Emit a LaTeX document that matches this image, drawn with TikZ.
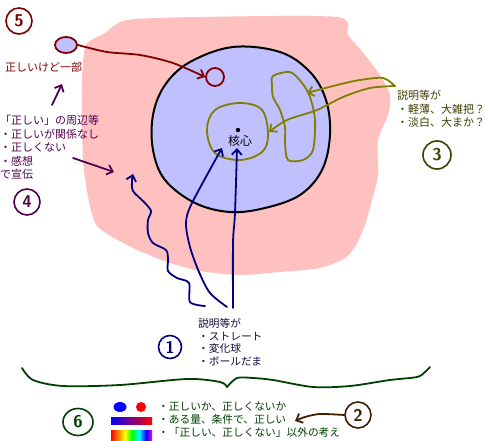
\documentclass[tikz,border=0pt]{standalone}
\usepackage{fontspec}
\newfontfamily\jp{Noto Sans CJK JP}
\usetikzlibrary{arrows.meta,shapes.geometric}
\definecolor{pinkbg}{HTML}{FFC0C0}
\definecolor{lav}{HTML}{C0C0FF}
\definecolor{dred}{HTML}{800000}
\definecolor{dpur}{HTML}{500050}
\definecolor{olv}{HTML}{808000}
\definecolor{dolv}{HTML}{404000}
\definecolor{nav}{HTML}{000080}
\definecolor{dnav}{HTML}{101040}
\definecolor{dgrn}{HTML}{004000}
\definecolor{brn}{HTML}{402000}
\begin{document}
\begin{tikzpicture}[x=1pt,y=-1pt,
  pen/.style={line width=1.8pt, line cap=round, line join=round},
  arr/.style={pen, -{Straight Barb[length=5.5pt,width=10pt,line width=1.8pt]}},
  num/.style={circle, draw, line width=1.6pt, minimum size=26pt, inner sep=0pt, font=\sffamily\bfseries\fontsize{17}{17}\selectfont},
  txt/.style={anchor=north west, inner sep=0pt, align=left, font=\jp\fontsize{11}{13.5}\selectfont},
  btxt/.style={anchor=north west, inner sep=0pt, align=left, font=\jp\fontsize{10.7}{12.8}\selectfont}]
\useasboundingbox (0,0) rectangle (485,441);
\fill[white] (0,0) rectangle (485,441);

% pink blob
\fill[pinkbg] plot[smooth cycle, tension=0.45] coordinates {
 (127,20) (200,17) (337,17) (348,35) (365,55) (380,75) (390,95) (388,115)
 (378,140) (378,175) (372,200) (365,225) (356,245) (345,258) (320,268)
 (280,272) (240,275) (200,271) (167,262) (133,248) (100,229) (92,214)
 (86,185) (83,160) (82,120) (82,80) (86,45) (105,33)};

% lavender circle
\filldraw[fill=lav, draw=black, line width=2pt] plot[smooth cycle, tension=0.6] coordinates {
 (233,47) (280,52) (310,72) (326,100) (330,135) (322,170) (300,195) (265,208)
 (230,212) (195,203) (165,180) (153,150) (153,115) (165,85) (190,62)};

% core
\fill[black] (238,130) circle (2.2pt);
\coordinate (core) at (238,130);
\node[font=\jp\fontsize{12}{12}\selectfont, inner sep=0pt] (kaku) at (240,141) {核心};

% olive loops
\draw[olv, pen] plot[smooth cycle, tension=0.6] coordinates {
 (207,130) (215,110) (240,103) (262,110) (268,135) (262,152) (240,160) (215,153)};
\draw[olv, pen] plot[smooth cycle, tension=0.5] coordinates {
 (273,76) (290,72) (302,83) (310,97) (315,120) (313,150) (303,160) (288,160)
 (285,143) (285,127) (280,110) (273,97) (272,85)};
\coordinate (o3) at (395,86);
\draw[olv, arr] plot[smooth, tension=0.5] coordinates {(o3) (383,78) (360,80) (337,85) (307,93)};
\draw[olv, arr] plot[smooth, tension=0.5] coordinates {(o3) (370,88) (343,97) (317,110) (287,120) (269,132)};

% source ellipse (5) and red arrow
\node[draw=dred, fill=lav, ellipse, line width=1.8pt, minimum width=22pt, minimum height=16pt, inner sep=0pt] (src5) at (66,45) {};
\node[draw=dred, circle, line width=1.8pt, minimum size=18pt, inner sep=0pt] (tgt) at (215,77) {};
\draw[dred, arr] plot[smooth, tension=0.5] coordinates {(src5.east) (107,52) (140,55) (173,63) (tgt.west)};

% navy arrows
\draw[nav, arr] plot[smooth, tension=0.5] coordinates {
 (205,306) (190,302) (189,283) (177,278) (168,271) (168,259) (166,250) (153,243)
 (148,233) (148,220) (151,211) (144,202) (133,191) (132,180) (133,174)};
\draw[nav, arr] plot[smooth, tension=0.5] coordinates {
 (227,307) (210,293) (199,272) (190,247) (186,223) (192,203) (222,148)};
\draw[nav, arr] plot[smooth, tension=0.5] coordinates {
 (233,308) (233,243) (235,213) (237,148)};

% circled numbers
\node[num, draw=dred, text=dred] (n5) at (19,21) {5};
\node[num, draw=dpur, text=dpur] (n4) at (27,202) {4};
\node[num, draw=dolv, text=dolv, minimum size=28pt] (n3) at (437,155) {3};
\node[num, draw=nav, text=nav, minimum size=23pt] (n1) at (170,347) {1};
\node[num, draw=brn, text=brn] (n2) at (358,415) {2};
\node[num, draw=dgrn, text=dgrn, ellipse, minimum width=30pt, minimum height=27pt] (n6) at (78,422) {6};

% texts
\node[txt, text=dred] (t5) at (5,62) {正しいけど一部};
\node[txt, text=dpur] (t4) at (0,115) {「正しい」の周辺等\\・正しいが関係なし\\・正しくない\\・感想\\で宣伝};
\node[txt, text=dolv] (t3) at (397,90) {説明等が\\・軽薄、大雑把？\\・淡白、大まか？};
\node[btxt, text=dnav] (t1) at (198,318) {説明等が\\・ストレート\\・変化球\\・ボールだま};
\node[btxt, text=dgrn] (t6) at (158,402) {・正しいか、正しくないか\\・ある量、条件で、正しい\\・「正しい、正しくない」以外の考え};

% purple arrows
\coordinate (p1s) at (52,105); \coordinate (p1e) at (62,84);
\draw[dpur, arr] (p1s) -- (p1e);
\coordinate (p2s) at (73,158); \coordinate (p2e) at (114,172);
\draw[dpur, arr] (p2s) -- (p2e);

% brown arrow
\coordinate (b2e) at (295,421);
\draw[brn, arr] plot[smooth, tension=0.5] coordinates {(n2.west) (320,414) (305,417) (b2e)};

% brace
\draw[dgrn, pen] plot[smooth, tension=0.5] coordinates {
 (22,368) (33,380) (63,386) (120,385) (187,379) (220,382) (227,387)};
\draw[dgrn, pen] plot[smooth, tension=0.5] coordinates {
 (227,387) (237,378) (253,378) (273,380) (313,387) (350,386) (390,380) (417,377) (425,372) (430,367)};

% colour samples
\fill[blue] (120,407) ellipse (6.5pt and 5pt);
\fill[red] (141,407) circle (5pt);
\shade[left color=blue, right color=red] (111,417) rectangle (152,424);
\shade[left color=red, right color=orange] (111,430) rectangle (118,441);
\shade[left color=orange, right color=yellow] (118,430) rectangle (125,441);
\shade[left color=yellow, right color=green] (125,430) rectangle (132,441);
\shade[left color=green, right color=cyan] (132,430) rectangle (139,441);
\shade[left color=cyan, right color=blue] (139,430) rectangle (146,441);
\shade[left color=blue, right color=magenta] (146,430) rectangle (152,441);
\end{tikzpicture}
\end{document}
